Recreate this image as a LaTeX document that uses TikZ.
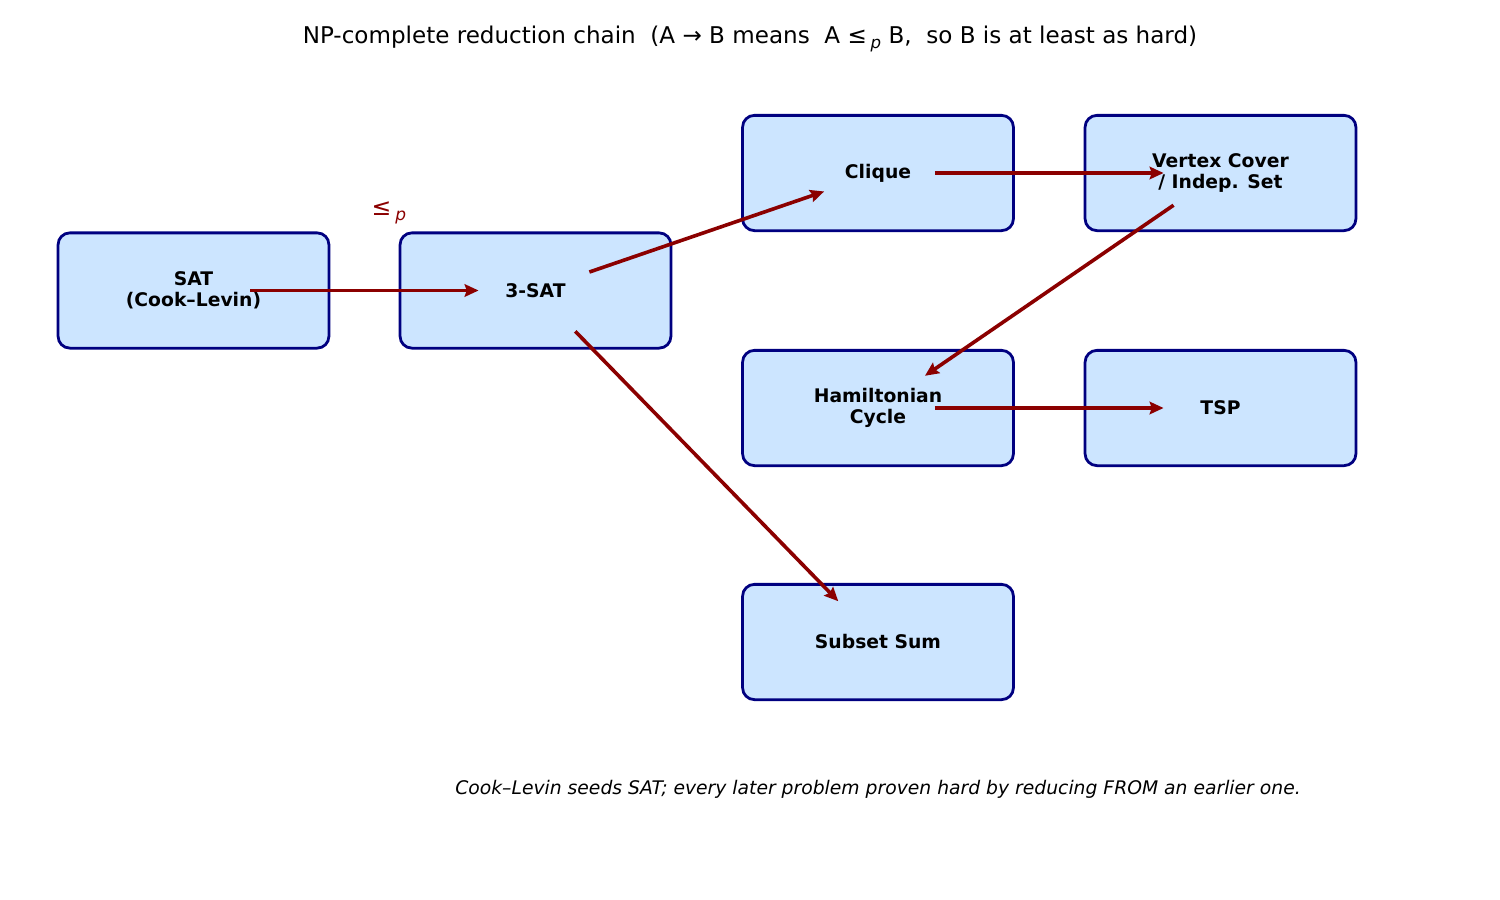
\documentclass[tikz,border=0pt]{standalone}
\usepackage{fontspec}
\setmainfont{DejaVu Sans}
\usetikzlibrary{arrows.meta}
\definecolor{boxfill}{HTML}{CCE5FF}
\definecolor{boxedge}{HTML}{000080}
\definecolor{arr}{HTML}{8B0000}
\newcommand{\lepsub}{≤\,\raisebox{-0.35ex}{\fontsize{0.72em}{1em}\selectfont\itshape p}}
\tikzset{
  probbox/.style={draw=boxedge, fill=boxfill, line width=2pt, rounded corners=8.5pt,
    minimum width=195pt, minimum height=83pt, align=center, inner sep=0pt,
    font=\fontsize{13.5}{15.5}\selectfont\bfseries},
  redarrow/.style={draw=arr, line width=2.6pt,
    -{Stealth[length=10pt,width=9pt,inset=1.5pt]}, shorten <=41pt, shorten >=41pt},
}
\begin{document}
\begin{tikzpicture}[x=0.72pt,y=-0.72pt]
\useasboundingbox (0,0) rectangle (1500,900);
\node[font=\fontsize{16.6}{19}\selectfont] (title) at (750,39) {NP-complete reduction chain\ \ (A → B means\ \ A \lepsub{} B,\ \ so B is at least as hard)};
\node[probbox] (sat) at (193.5,290.5) {SAT\\(Cook–Levin)};
\node[probbox] (tsat) at (535.5,290.5) {3-SAT};
\node[probbox] (clique) at (878,173) {Clique};
\node[probbox] (vc) at (1220.5,173) {Vertex Cover\\/ Indep. Set};
\node[probbox] (ham) at (878,408) {Hamiltonian\\Cycle};
\node[probbox] (tsp) at (1220.5,408) {TSP};
\node[probbox] (sub) at (878,642) {Subset Sum};
\node[text=arr, font=\fontsize{17}{19}\selectfont] (lep) at (389,213) {\lepsub};
\draw[redarrow] (sat.center) -- (tsat.center);
\draw[redarrow] (tsat.center) -- (clique.center);
\draw[redarrow] (tsat.center) -- (sub.center);
\draw[redarrow] (clique.center) -- (vc.center);
\draw[redarrow] (vc.center) -- (ham.center);
\draw[redarrow] (ham.center) -- (tsp.center);
\node[font=\fontsize{13.5}{15}\selectfont\itshape] (cap) at (878,789) {Cook–Levin seeds SAT; every later problem proven hard by reducing FROM an earlier one.};
\end{tikzpicture}
\end{document}
